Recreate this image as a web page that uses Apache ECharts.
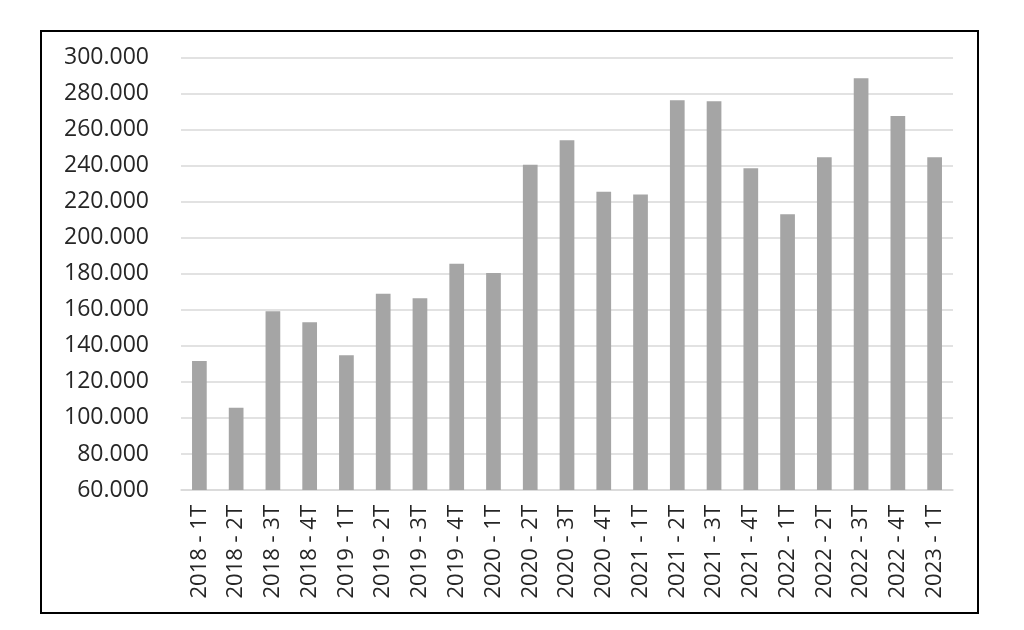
<!DOCTYPE html>
<html>
<head>
<meta charset="utf-8">
<script src="https://cdn.jsdelivr.net/npm/echarts@6/dist/echarts.min.js"></script>
<style>
  html, body { margin: 0; padding: 0; background: #fff; }
  #main { width: 1024px; height: 630px; }
</style>
</head>
<body>
<div id="main"></div>
<script>
var categories = [
  "2018 - 1T", "2018 - 2T", "2018 - 3T", "2018 - 4T",
  "2019 - 1T", "2019 - 2T", "2019 - 3T", "2019 - 4T",
  "2020 - 1T", "2020 - 2T", "2020 - 3T", "2020 - 4T",
  "2021 - 1T", "2021 - 2T", "2021 - 3T", "2021 - 4T",
  "2022 - 1T", "2022 - 2T", "2022 - 3T", "2022 - 4T",
  "2023 - 1T"
];
var values = [
  131.6, 105.7, 159.2, 153.1,
  134.8, 169.0, 166.4, 185.6,
  180.5, 240.6, 254.2, 225.6,
  224.0, 276.4, 275.8, 238.6,
  213.1, 244.7, 288.6, 267.7,
  244.7
];
var yTicks = [60, 300, 20];

var chartDom = document.getElementById("main");
var myChart = echarts.init(chartDom, null, { renderer: "canvas" });
var option;

var textColor = "#262626";
var gridColor = "#d9d9d9";

option = {
  animation: false,
  backgroundColor: "#fff",
  textStyle: { fontFamily: "Open Sans" },
  graphic: [
    {
      type: "rect",
      shape: { x: 41, y: 31, width: 937, height: 582 },
      style: { fill: null, stroke: "#000", lineWidth: 2 },
    },
  ],
  grid: { left: 181, right: 71, top: 57.7, bottom: 140, containLabel: false },
  xAxis: {
    type: "category",
    data: categories,
    axisLine: { lineStyle: { color: gridColor, width: 1.5 } },
    axisTick: { show: false },
    axisLabel: {
      rotate: 90,
      interval: 0,
      margin: 15,
      fontSize: 22,
      color: textColor,
      fontFamily: "Open Sans",
    },
  },
  yAxis: {
    type: "value",
    min: yTicks[0],
    max: yTicks[1],
    interval: yTicks[2],
    axisLine: { show: false },
    axisTick: { show: false },
    splitLine: { lineStyle: { color: gridColor, width: 1.5 } },
    axisLabel: {
      margin: 32,
      fontSize: 23,
      color: textColor,
      fontFamily: "Open Sans",
      formatter: function (v) {
        return v.toFixed(3);
      },
    },
  },
  series: [
    {
      type: "bar",
      data: values,
      barWidth: "40%",
      itemStyle: { color: "#a5a5a5" },
    },
  ],
};
myChart.setOption(option);
</script>
</body>
</html>
